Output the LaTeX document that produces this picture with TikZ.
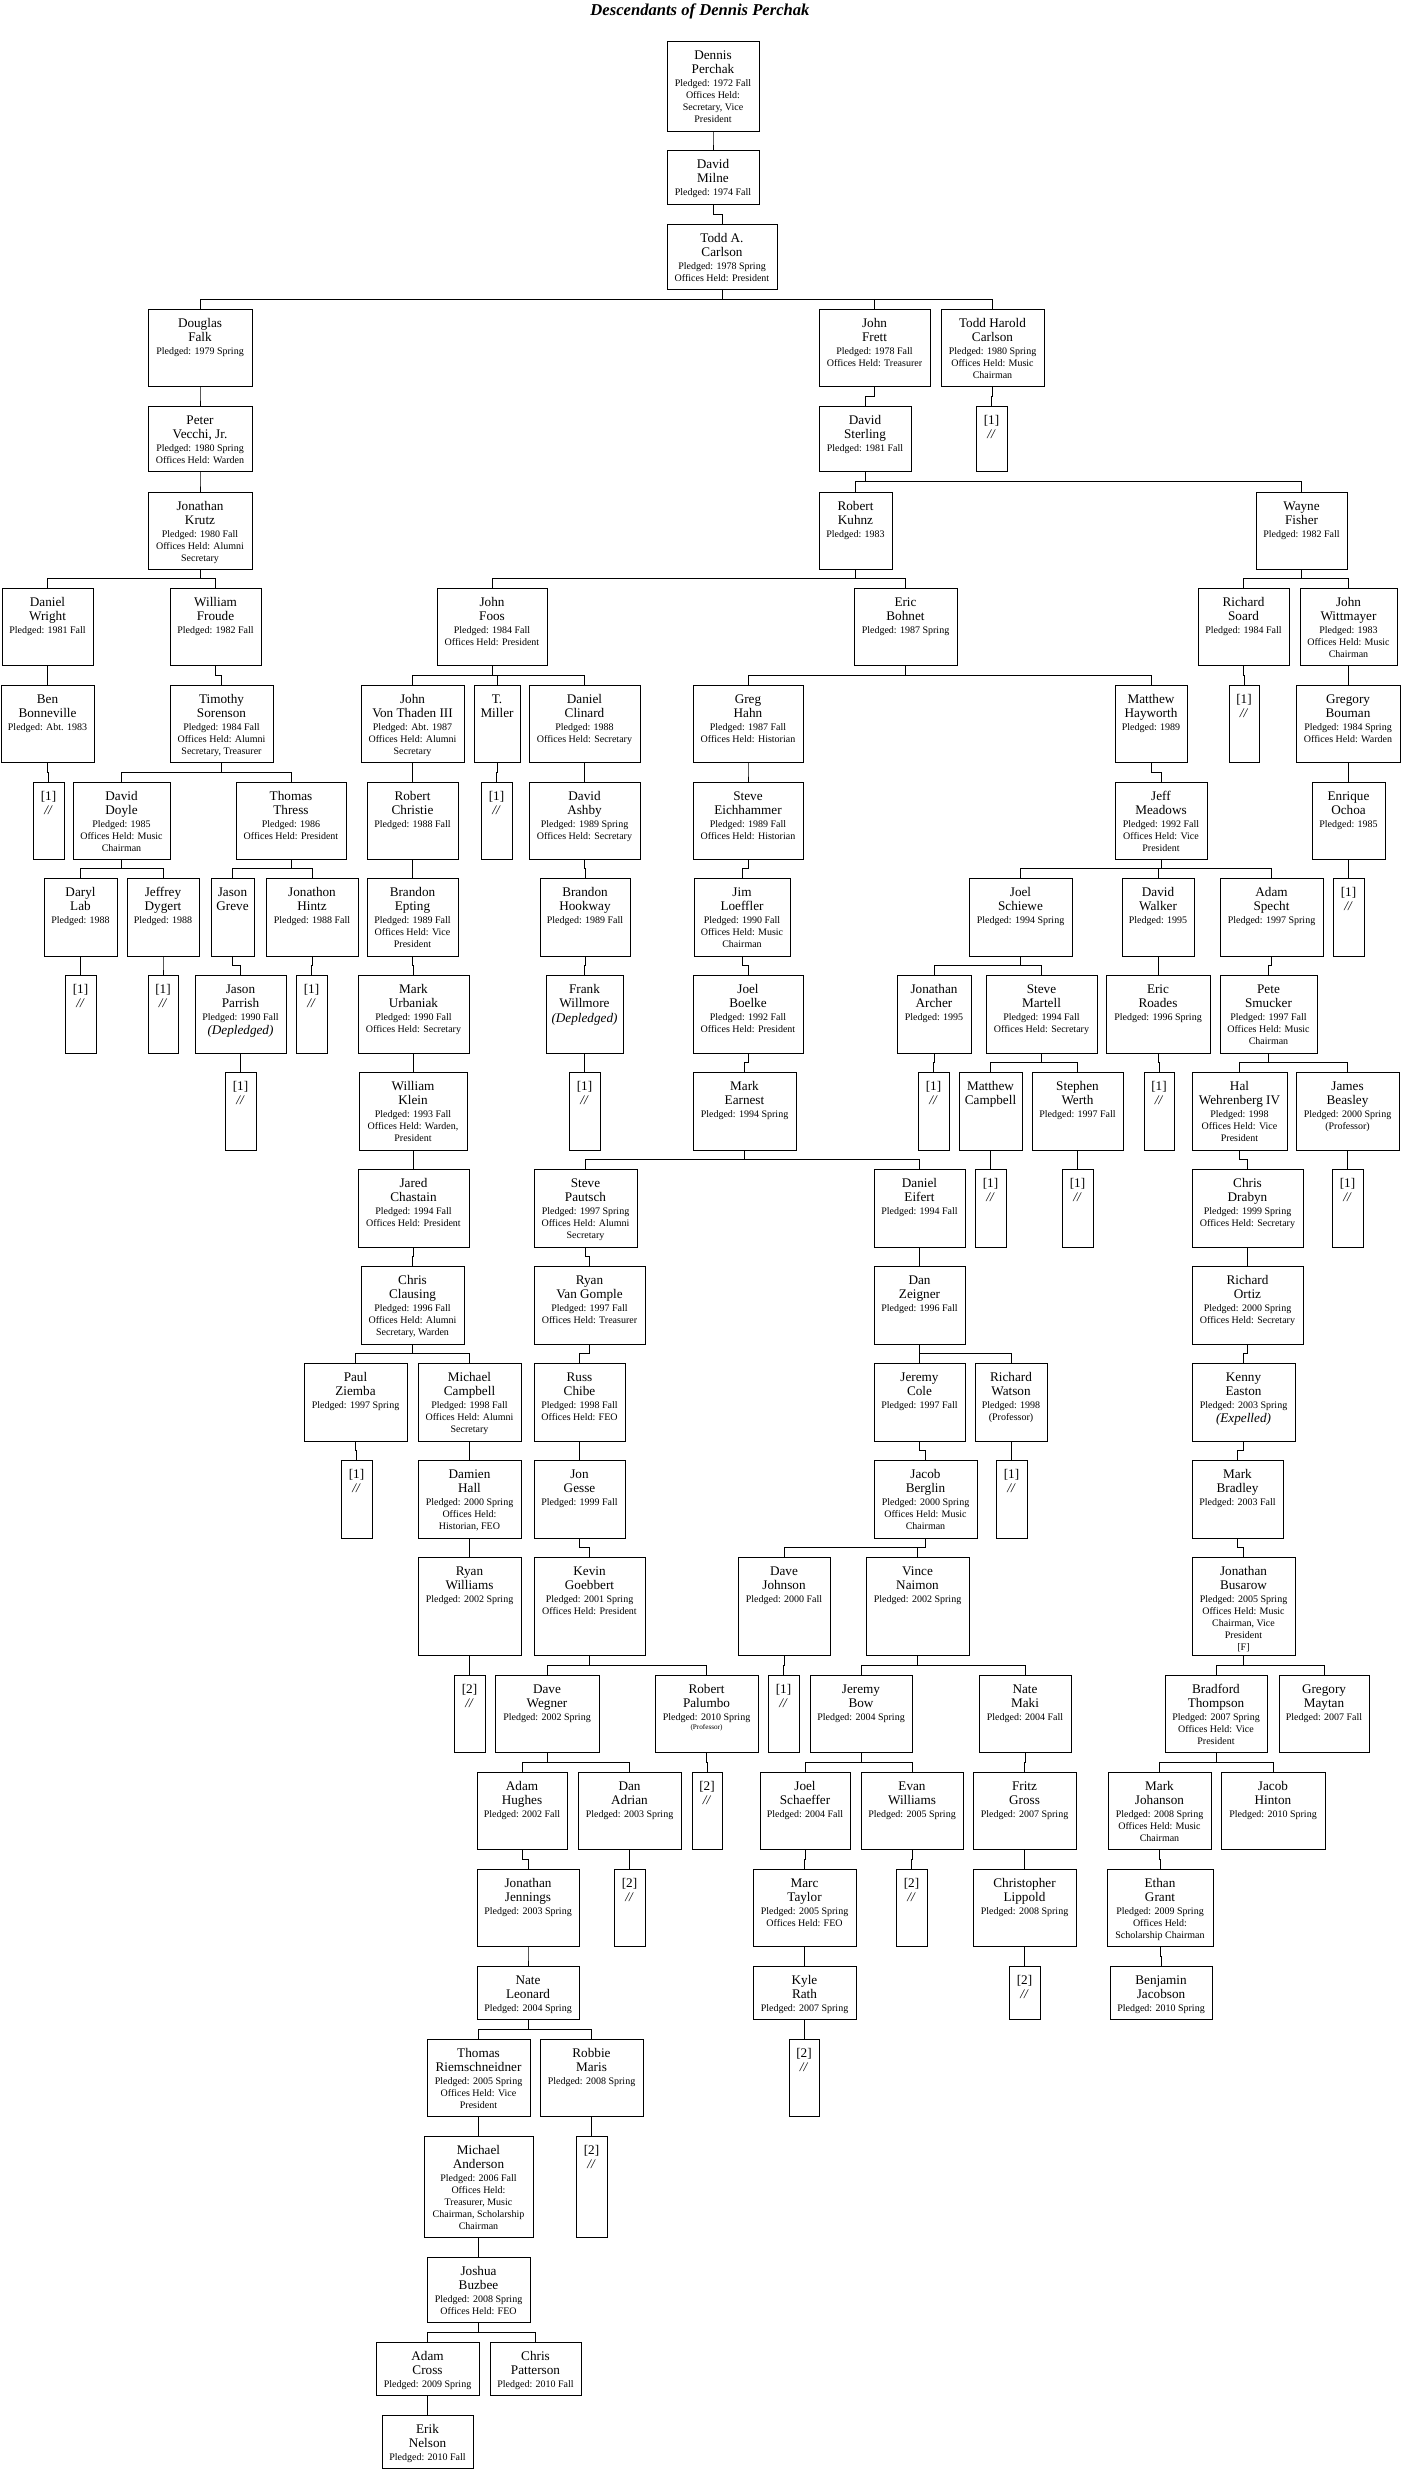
\documentclass[tikz,border=0pt]{standalone}
\usepackage{fontspec}
\setmainfont{Liberation Serif}
\usetikzlibrary{calc}
\newcommand{\nmfont}{\fontsize{6.6}{7}\selectfont}
\newcommand{\smfont}{\fontsize{5}{6}\selectfont}
\tikzset{
  mbox/.style={draw, line width=0.5pt, inner sep=0pt, outer sep=0pt},
  mtxt/.style={anchor=north, inner sep=0pt, align=flush center, yshift=-4.5pt},
  link/.style={line width=0.45pt},
}
% one member: name, left, top, width, height (in px), name lines, info lines
\newcommand{\mem}[7]{%
  \pgfmathsetlengthmacro{\boxw}{#4*0.5pt}%
  \pgfmathsetlengthmacro{\boxh}{#5*0.5pt}%
  \pgfmathsetlengthmacro{\txtw}{#4*0.5pt-1pt}%
  \node[mbox, minimum width=\boxw, minimum height=\boxh] (#1) at ({#2+#4/2},{#3+#5/2}) {};
  \node[mtxt, text width=\txtw] (#1-t) at (#1.north) {{\nmfont #6\par}{\smfont\vspace{0.5pt}#7\par}};%
}
\begin{document}
\begin{tikzpicture}[x=0.5pt, y=-0.5pt]
    \useasboundingbox (0,0) rectangle (1402,2470);
    \node[font=\fontsize{8.3}{10}\selectfont\bfseries\itshape] (title) at (700,11) {Descendants of Dennis Perchak};
    % generations, top to bottom
    \mem{dp}{667}{41}{92}{90}{Dennis\\Perchak}{Pledged: 1972 Fall\\Offices Held:\\Secretary, Vice\\President}
    \mem{dm}{667}{150}{92}{54}{David\\Milne}{Pledged: 1974 Fall}
    \mem{tc}{667}{224}{110}{65}{Todd A.\\Carlson}{Pledged: 1978 Spring\\Offices Held: President}
    \mem{df}{148}{309}{104}{77}{Douglas\\Falk}{Pledged: 1979 Spring}
    \mem{jf}{819}{309}{111}{77}{John\\Frett}{Pledged: 1978 Fall\\Offices Held: Treasurer}
    \mem{thc}{941}{309}{103}{77}{Todd Harold\\Carlson}{Pledged: 1980 Spring\\Offices Held: Music\\Chairman}
    \mem{pv}{148}{406}{104}{65}{Peter\\Vecchi, Jr.}{Pledged: 1980 Spring\\Offices Held: Warden}
    \mem{ds}{819}{406}{92}{65}{David\\Sterling}{Pledged: 1981 Fall}
    \mem{s1a}{976}{406}{31}{65}{[1]\\\textit{//}}{}
    \mem{jk}{148}{492}{104}{77}{Jonathan\\Krutz}{Pledged: 1980 Fall\\Offices Held: Alumni\\Secretary}
    \mem{rk}{819}{492}{73}{77}{Robert\\Kuhnz}{Pledged: 1983}
    \mem{wf}{1256}{492}{91}{77}{Wayne\\Fisher}{Pledged: 1982 Fall}
    \mem{dw}{2}{588}{91}{77}{Daniel\\Wright}{Pledged: 1981 Fall}
    \mem{wfr}{170}{588}{91}{77}{William\\Froude}{Pledged: 1982 Fall}
    \mem{jfo}{437}{588}{110}{77}{John\\Foos}{Pledged: 1984 Fall\\Offices Held: President}
    \mem{eb}{854}{588}{103}{77}{Eric\\Bohnet}{Pledged: 1987 Spring}
    \mem{rs}{1198}{588}{91}{77}{Richard\\Soard}{Pledged: 1984 Fall}
    \mem{jw}{1300}{588}{97}{77}{John\\Wittmayer}{Pledged: 1983\\Offices Held: Music\\Chairman}
    \mem{bb}{1}{685}{93}{77}{Ben\\Bonneville}{Pledged: Abt. 1983}
    \mem{ts}{170}{685}{103}{77}{Timothy\\Sorenson}{Pledged: 1984 Fall\\Offices Held: Alumni\\Secretary, Treasurer}
    \mem{jvt}{361}{685}{103}{77}{John\\Von Thaden III}{Pledged: Abt. 1987\\Offices Held: Alumni\\Secretary}
    \mem{tm}{474}{685}{46}{77}{T.\\Miller}{}
    \mem{dc}{529}{685}{111}{77}{Daniel\\Clinard}{Pledged: 1988\\Offices Held: Secretary}
    \mem{gh}{693}{685}{110}{77}{Greg\\Hahn}{Pledged: 1987 Fall\\Offices Held: Historian}
    \mem{mh}{1115}{685}{72}{77}{Matthew\\Hayworth}{Pledged: 1989}
    \mem{s1b}{1229}{685}{30}{77}{[1]\\\textit{//}}{}
    \mem{gb}{1296}{685}{104}{77}{Gregory\\Bouman}{Pledged: 1984 Spring\\Offices Held: Warden}
    \mem{s1c}{33}{782}{31}{77}{[1]\\\textit{//}}{}
    \mem{dd}{73}{782}{97}{77}{David\\Doyle}{Pledged: 1985\\Offices Held: Music\\Chairman}
    \mem{tt}{236}{782}{110}{77}{Thomas\\Thress}{Pledged: 1986\\Offices Held: President}
    \mem{rc}{367}{782}{91}{77}{Robert\\Christie}{Pledged: 1988 Fall}
    \mem{s1d}{481}{782}{31}{77}{[1]\\\textit{//}}{}
    \mem{da}{529}{782}{111}{77}{David\\Ashby}{Pledged: 1989 Spring\\Offices Held: Secretary}
    \mem{se}{693}{782}{110}{77}{Steve\\Eichhammer}{Pledged: 1989 Fall\\Offices Held: Historian}
    \mem{jm}{1115}{782}{92}{77}{Jeff\\Meadows}{Pledged: 1992 Fall\\Offices Held: Vice\\President}
    \mem{eo}{1312}{782}{73}{77}{Enrique\\Ochoa}{Pledged: 1985}
    \mem{dl}{44}{878}{73}{78}{Daryl\\Lab}{Pledged: 1988}
    \mem{jd}{127}{878}{72}{78}{Jeffrey\\Dygert}{Pledged: 1988}
    \mem{jg}{211}{878}{43}{78}{Jason\\Greve}{}
    \mem{jh}{266}{878}{92}{78}{Jonathon\\Hintz}{Pledged: 1988 Fall}
    \mem{be}{367}{878}{91}{78}{Brandon\\Epting}{Pledged: 1989 Fall\\Offices Held: Vice\\President}
    \mem{bh}{540}{878}{90}{78}{Brandon\\Hookway}{Pledged: 1989 Fall}
    \mem{jl}{694}{878}{96}{78}{Jim\\Loeffler}{Pledged: 1990 Fall\\Offices Held: Music\\Chairman}
    \mem{js}{969}{878}{103}{78}{Joel\\Schiewe}{Pledged: 1994 Spring}
    \mem{dwa}{1122}{878}{72}{78}{David\\Walker}{Pledged: 1995}
    \mem{as}{1220}{878}{103}{78}{Adam\\Specht}{Pledged: 1997 Spring}
    \mem{s1e}{1333}{878}{31}{78}{[1]\\\textit{//}}{}
    \mem{s1f}{65}{975}{31}{78}{[1]\\\textit{//}}{}
    \mem{s1g}{148}{975}{30}{78}{[1]\\\textit{//}}{}
    \mem{jp}{195}{975}{91}{78}{Jason\\Parrish}{Pledged: 1990 Fall\par\nmfont\itshape (Depledged)}
    \mem{s1h}{296}{975}{31}{78}{[1]\\\textit{//}}{}
    \mem{mu}{358}{975}{111}{78}{Mark\\Urbaniak}{Pledged: 1990 Fall\\Offices Held: Secretary}
    \mem{fw}{546}{975}{77}{78}{Frank\\Willmore}{\nmfont\itshape (Depledged)}
    \mem{jbo}{693}{975}{110}{78}{Joel\\Boelke}{Pledged: 1992 Fall\\Offices Held: President}
    \mem{ja}{897}{975}{74}{78}{Jonathan\\Archer}{Pledged: 1995}
    \mem{sm}{986}{975}{111}{78}{Steve\\Martell}{Pledged: 1994 Fall\\Offices Held: Secretary}
    \mem{er}{1106}{975}{104}{78}{Eric\\Roades}{Pledged: 1996 Spring}
    \mem{ps}{1220}{975}{97}{78}{Pete\\Smucker}{Pledged: 1997 Fall\\Offices Held: Music\\Chairman}
    \mem{s1i}{225}{1072}{31}{78}{[1]\\\textit{//}}{}
    \mem{wk}{359}{1072}{108}{78}{William\\Klein}{Pledged: 1993 Fall\\Offices Held: Warden,\\President}
    \mem{s1j}{569}{1072}{31}{78}{[1]\\\textit{//}}{}
    \mem{me}{693}{1072}{103}{78}{Mark\\Earnest}{Pledged: 1994 Spring}
    \mem{s1k}{918}{1072}{31}{78}{[1]\\\textit{//}}{}
    \mem{mc}{959}{1072}{63}{78}{Matthew\\Campbell}{}
    \mem{sw}{1032}{1072}{91}{78}{Stephen\\Werth}{Pledged: 1997 Fall}
    \mem{s1l}{1144}{1072}{30}{78}{[1]\\\textit{//}}{}
    \mem{hw}{1192}{1072}{95}{78}{Hal\\Wehrenberg IV}{Pledged: 1998\\Offices Held: Vice\\President}
    \mem{jbe}{1296}{1072}{103}{78}{James\\Beasley}{Pledged: 2000 Spring\\(Professor)}
    \mem{jc}{358}{1169}{111}{78}{Jared\\Chastain}{Pledged: 1994 Fall\\Offices Held: President}
    \mem{sp}{534}{1169}{103}{78}{Steve\\Pautsch}{Pledged: 1997 Spring\\Offices Held: Alumni\\Secretary}
    \mem{de}{874}{1169}{91}{78}{Daniel\\Eifert}{Pledged: 1994 Fall}
    \mem{s1m}{975}{1169}{31}{78}{[1]\\\textit{//}}{}
    \mem{s1n}{1062}{1169}{31}{78}{[1]\\\textit{//}}{}
    \mem{cd}{1192}{1169}{111}{78}{Chris\\Drabyn}{Pledged: 1999 Spring\\Offices Held: Secretary}
    \mem{s1o}{1332}{1169}{31}{78}{[1]\\\textit{//}}{}
    \mem{cc}{361}{1266}{103}{78}{Chris\\Clausing}{Pledged: 1996 Fall\\Offices Held: Alumni\\Secretary, Warden}
    \mem{rvg}{534}{1266}{111}{78}{Ryan\\Van Gomple}{Pledged: 1997 Fall\\Offices Held: Treasurer}
    \mem{dz}{874}{1266}{91}{78}{Dan\\Zeigner}{Pledged: 1996 Fall}
    \mem{ro}{1192}{1266}{111}{78}{Richard\\Ortiz}{Pledged: 2000 Spring\\Offices Held: Secretary}
    \mem{pz}{304}{1363}{103}{78}{Paul\\Ziemba}{Pledged: 1997 Spring}
    \mem{mca}{418}{1363}{103}{78}{Michael\\Campbell}{Pledged: 1998 Fall\\Offices Held: Alumni\\Secretary}
    \mem{rch}{534}{1363}{91}{78}{Russ\\Chibe}{Pledged: 1998 Fall\\Offices Held: FEO}
    \mem{jco}{874}{1363}{91}{78}{Jeremy\\Cole}{Pledged: 1997 Fall}
    \mem{rw}{975}{1363}{72}{78}{Richard\\Watson}{Pledged: 1998\\(Professor)}
    \mem{ke}{1192}{1363}{103}{78}{Kenny\\Easton}{Pledged: 2003 Spring\par\nmfont\itshape (Expelled)}
    \mem{s1p}{341}{1460}{31}{78}{[1]\\\textit{//}}{}
    \mem{dh}{418}{1460}{103}{78}{Damien\\Hall}{Pledged: 2000 Spring\\Offices Held:\\Historian, FEO}
    \mem{jge}{534}{1460}{91}{78}{Jon\\Gesse}{Pledged: 1999 Fall}
    \mem{jbg}{874}{1460}{103}{78}{Jacob\\Berglin}{Pledged: 2000 Spring\\Offices Held: Music\\Chairman}
    \mem{s1q}{996}{1460}{31}{78}{[1]\\\textit{//}}{}
    \mem{mb}{1192}{1460}{91}{78}{Mark\\Bradley}{Pledged: 2003 Fall}
    \mem{rwi}{418}{1557}{103}{98}{Ryan\\Williams}{Pledged: 2002 Spring}
    \mem{kg}{534}{1557}{111}{98}{Kevin\\Goebbert}{Pledged: 2001 Spring\\Offices Held: President}
    \mem{dj}{738}{1557}{92}{98}{Dave\\Johnson}{Pledged: 2000 Fall}
    \mem{vn}{866}{1557}{103}{98}{Vince\\Naimon}{Pledged: 2002 Spring}
    \mem{jbu}{1192}{1557}{103}{98}{Jonathan\\Busarow}{Pledged: 2005 Spring\\Offices Held: Music\\Chairman, Vice\\President\\{[F]}}
    \mem{s2a}{454}{1675}{31}{77}{[2]\\\textit{//}}{}
    \mem{dwe}{495}{1675}{104}{77}{Dave\\Wegner}{Pledged: 2002 Spring}
    \mem{rp}{655}{1675}{103}{77}{Robert\\Palumbo}{Pledged: 2010 Spring\par\fontsize{3.6}{4.5}\selectfont (Professor)}
    \mem{s1r}{768}{1675}{31}{77}{[1]\\\textit{//}}{}
    \mem{jbw}{810}{1675}{102}{77}{Jeremy\\Bow}{Pledged: 2004 Spring}
    \mem{nm}{979}{1675}{92}{77}{Nate\\Maki}{Pledged: 2004 Fall}
    \mem{bt}{1165}{1675}{102}{77}{Bradford\\Thompson}{Pledged: 2007 Spring\\Offices Held: Vice\\President}
    \mem{gm}{1279}{1675}{90}{77}{Gregory\\Maytan}{Pledged: 2007 Fall}
    \mem{ah}{477}{1772}{90}{77}{Adam\\Hughes}{Pledged: 2002 Fall}
    \mem{dad}{578}{1772}{103}{77}{Dan\\Adrian}{Pledged: 2003 Spring}
    \mem{s2b}{692}{1772}{30}{77}{[2]\\\textit{//}}{}
    \mem{jsc}{760}{1772}{90}{77}{Joel\\Schaeffer}{Pledged: 2004 Fall}
    \mem{ew}{861}{1772}{102}{77}{Evan\\Williams}{Pledged: 2005 Spring}
    \mem{fg}{973}{1772}{103}{77}{Fritz\\Gross}{Pledged: 2007 Spring}
    \mem{mjo}{1108}{1772}{103}{77}{Mark\\Johanson}{Pledged: 2008 Spring\\Offices Held: Music\\Chairman}
    \mem{jhi}{1221}{1772}{104}{77}{Jacob\\Hinton}{Pledged: 2010 Spring}
    \mem{jje}{477}{1869}{102}{77}{Jonathan\\Jennings}{Pledged: 2003 Spring}
    \mem{s2c}{614}{1869}{31}{77}{[2]\\\textit{//}}{}
    \mem{mt}{753}{1869}{103}{77}{Marc\\Taylor}{Pledged: 2005 Spring\\Offices Held: FEO}
    \mem{s2d}{896}{1869}{31}{77}{[2]\\\textit{//}}{}
    \mem{cl}{973}{1869}{103}{77}{Christopher\\Lippold}{Pledged: 2008 Spring}
    \mem{eg}{1107}{1869}{106}{77}{Ethan\\Grant}{Pledged: 2009 Spring\\Offices Held:\\Scholarship Chairman}
    \mem{nl}{477}{1966}{102}{53}{Nate\\Leonard}{Pledged: 2004 Spring}
    \mem{kr}{753}{1966}{103}{53}{Kyle\\Rath}{Pledged: 2007 Spring}
    \mem{s2e}{1009}{1966}{31}{53}{[2]\\\textit{//}}{}
    \mem{bj}{1110}{1966}{102}{53}{Benjamin\\Jacobson}{Pledged: 2010 Spring}
    \mem{tr}{427}{2039}{103}{77}{Thomas\\Riemschneidner}{Pledged: 2005 Spring\\Offices Held: Vice\\President}
    \mem{rm}{540}{2039}{103}{77}{Robbie\\Maris}{Pledged: 2008 Spring}
    \mem{s2f}{789}{2039}{30}{77}{[2]\\\textit{//}}{}
    \mem{ma}{424}{2136}{109}{101}{Michael\\Anderson}{Pledged: 2006 Fall\\Offices Held:\\Treasurer, Music\\Chairman, Scholarship\\Chairman}
    \mem{s2g}{576}{2136}{31}{101}{[2]\\\textit{//}}{}
    \mem{jbz}{427}{2257}{103}{65}{Joshua\\Buzbee}{Pledged: 2008 Spring\\Offices Held: FEO}
    \mem{ac}{376}{2342}{103}{53}{Adam\\Cross}{Pledged: 2009 Spring}
    \mem{cp}{490}{2342}{91}{53}{Chris\\Patterson}{Pledged: 2010 Fall}
    \mem{en}{382}{2415}{91}{53}{Erik\\Nelson}{Pledged: 2010 Fall}
    % parent to child lines
    \foreach \p/\c in {dp/dm, dm/tc, tc/df, tc/jf, tc/thc, df/pv, jf/ds, thc/s1a, pv/jk, ds/rk, ds/wf,
        jk/dw, jk/wfr, rk/jfo, rk/eb, wf/rs, wf/jw, dw/bb, wfr/ts, jfo/jvt, jfo/tm, jfo/dc, eb/gh, eb/mh,
        rs/s1b, jw/gb, bb/s1c, ts/dd, ts/tt, jvt/rc, tm/s1d, dc/da, gh/se, mh/jm, gb/eo, dd/dl, dd/jd,
        tt/jg, tt/jh, rc/be, da/bh, se/jl, jm/js, jm/dwa, jm/as, eo/s1e, dl/s1f, jd/s1g, jg/jp, jh/s1h,
        be/mu, bh/fw, jl/jbo, js/ja, js/sm, dwa/er, as/ps, jp/s1i, mu/wk, fw/s1j, jbo/me, ja/s1k, sm/mc,
        sm/sw, er/s1l, ps/hw, ps/jbe, wk/jc, me/sp, me/de, mc/s1m, sw/s1n, hw/cd, jbe/s1o, jc/cc, sp/rvg,
        de/dz, cd/ro, cc/pz, cc/mca, rvg/rch, dz/jco, dz/rw, ro/ke, pz/s1p, mca/dh, rch/jge, jco/jbg,
        rw/s1q, ke/mb, dh/rwi, jge/kg, jbg/dj, jbg/vn, mb/jbu, rwi/s2a, kg/dwe, kg/rp, dj/s1r, vn/jbw,
        vn/nm, jbu/bt, jbu/gm, dwe/ah, dwe/dad, rp/s2b, jbw/jsc, jbw/ew, nm/fg, bt/mjo, bt/jhi, ah/jje,
        dad/s2c, jsc/mt, ew/s2d, fg/cl, mjo/eg, jje/nl, mt/kr, cl/s2e, eg/bj, nl/tr, nl/rm, kr/s2f,
        tr/ma, rm/s2g, ma/jbz, jbz/ac, jbz/cp, ac/en}
        \draw[link] (\p.south) |- ($(\p.south)!.5!(\c.north)$) -| (\c.north);
\end{tikzpicture}
\end{document}
